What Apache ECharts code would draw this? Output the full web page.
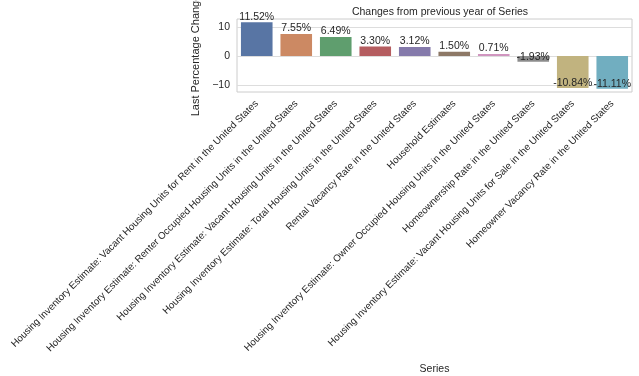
<!DOCTYPE html>
<html>
<head>
<meta charset="utf-8">
<script src="https://cdn.jsdelivr.net/npm/echarts@6/dist/echarts.min.js"></script>
<style>
  html, body { margin: 0; padding: 0; background: #fff; }
  #chart { width: 639px; height: 376px; }
</style>
</head>
<body>
<div id="chart"></div>
<script>
let seriesNames = [
  'Housing Inventory Estimate: Vacant Housing Units for Rent in the United States',
  'Housing Inventory Estimate: Renter Occupied Housing Units in the United States',
  'Housing Inventory Estimate: Vacant Housing Units in the United States',
  'Housing Inventory Estimate: Total Housing Units in the United States',
  'Rental Vacancy Rate in the United States',
  'Household Estimates',
  'Housing Inventory Estimate: Owner Occupied Housing Units in the United States',
  'Homeownership Rate in the United States',
  'Housing Inventory Estimate: Vacant Housing Units for Sale in the United States',
  'Homeowner Vacancy Rate in the United States'
];
let changeValues = [11.52, 7.55, 6.49, 3.30, 3.12, 1.50, 0.71, -1.93, -10.84, -11.11];
let barColors = ['#5875a4', '#cc8963', '#5f9e6e', '#b55d60', '#857aab', '#8d7866', '#d095bf', '#8c8c8c', '#c1b37f', '#71aec0'];
let yTicks = [-10, 0, 10];

let font = 'Liberation Sans, Arial, sans-serif';

// one data item per bar so each gets its colour and label side
let barData = changeValues.map(function (v, i) {
  return {
    value: v,
    itemStyle: { color: barColors[i] },
    label: v >= 0
      ? { position: 'top', distance: 0 }
      : { position: 'insideBottom', distance: -1 }
  };
});

let chart = echarts.init(document.getElementById('chart'));
chart.setOption({
  animation: false,
  title: {
    text: 'Changes from previous year of Series',
    left: 435, top: 2, textAlign: 'center',
    textStyle: { fontFamily: font, fontSize: 10.5, fontWeight: 'normal', color: '#262626' }
  },
  grid: {
    left: 237, right: 7, top: 19, bottom: 284,
    outerBoundsMode: 'none',
    containLabel: false,
    show: true, borderColor: '#cccccc', borderWidth: 1, backgroundColor: 'transparent'
  },
  xAxis: {
    type: 'category',
    data: seriesNames,
    name: 'Series',
    nameLocation: 'middle',
    nameGap: 272,
    nameTextStyle: { fontFamily: font, fontSize: 10.5, color: '#262626' },
    axisLine: { show: false },
    axisTick: { show: false },
    axisLabel: { rotate: 45, interval: 0, margin: 10, fontFamily: font, fontSize: 9.8, color: '#262626' },
    splitLine: { show: false }
  },
  yAxis: {
    type: 'value',
    min: -12.24,
    max: 12.65,
    name: 'Last Percentage Change',
    nameLocation: 'middle',
    nameGap: 27,
    nameTextStyle: { fontFamily: font, fontSize: 11, color: '#262626' },
    axisLine: { show: false },
    axisTick: { show: false, customValues: yTicks },
    axisLabel: {
      customValues: yTicks,
      margin: 7,
      fontFamily: font, fontSize: 10.5, color: '#262626',
      formatter: function (v) { return String(v).replace('-', '\u2212'); }
    },
    splitLine: { show: true, customValues: yTicks, lineStyle: { color: '#dddddd', width: 1 } }
  },
  series: [{
    type: 'bar',
    data: barData,
    barCategoryGap: '20%',
    label: {
      show: true,
      fontFamily: font, fontSize: 10.5, color: '#262626',
      formatter: function (p) { return p.value.toFixed(2) + '%'; }
    }
  }]
});
</script>
</body>
</html>
